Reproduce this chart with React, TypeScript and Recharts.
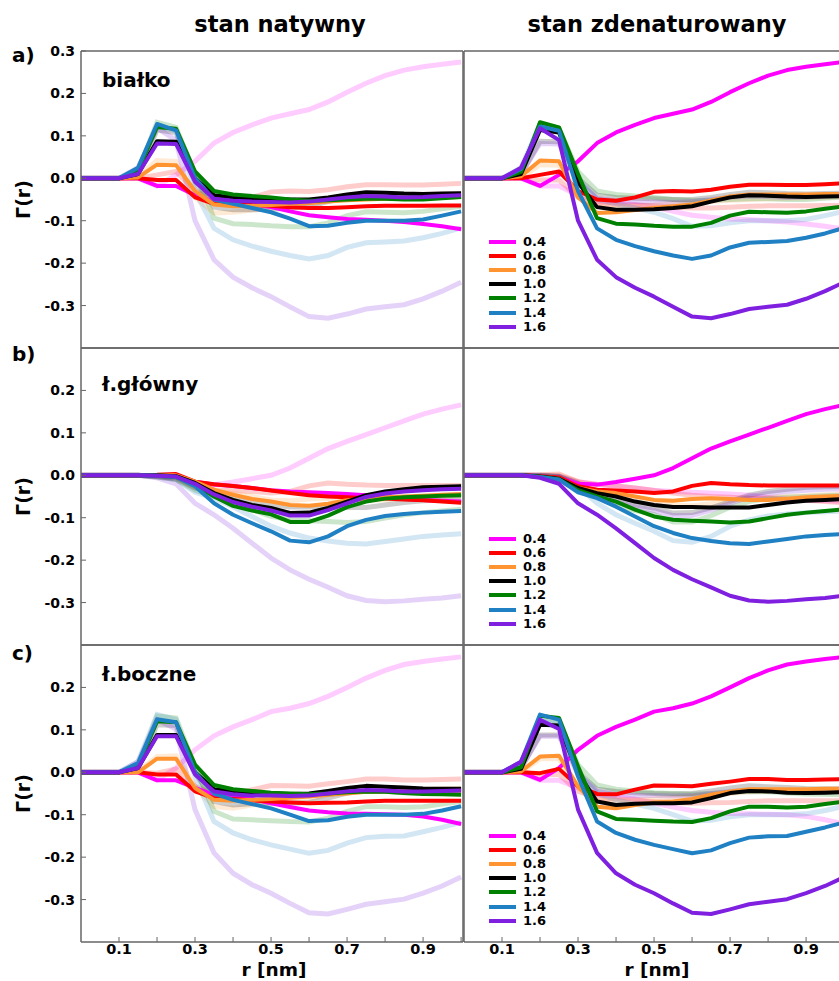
import React from 'react';
import { LineChart, Line, XAxis, YAxis, Legend } from 'recharts';

// r grid [nm], one point every 0.05
const rValues = [0, 0.05, 0.1, 0.15, 0.2, 0.25, 0.3, 0.35, 0.4, 0.45, 0.5, 0.55, 0.6, 0.65, 0.7, 0.75, 0.8, 0.85, 0.9, 0.95, 1.0];
const xTicks = [0.1, 0.2, 0.3, 0.4, 0.5, 0.6, 0.7, 0.8, 0.9, 1.0];
const xTickLabels = ['0.1', '0.3', '0.5', '0.7', '0.9'];
const yTicksTopRow = [-0.3, -0.2, -0.1, 0, 0.1, 0.2, 0.3];
const yTicksLowerRows = [-0.3, -0.2, -0.1, 0, 0.1, 0.2];

const seriesNames = ['0.4', '0.6', '0.8', '1.0', '1.2', '1.4', '1.6'];
const seriesColors = ['#ff00ff', '#ff0000', '#ff9430', '#000000', '#008000', '#1f80c4', '#7f1fe0'];

const columnTitles = ['stan natywny', 'stan zdenaturowany'];
const rowLetters = ['a)', 'b)', 'c)'];
const rowNames = ['białko', 'ł.główny', 'ł.boczne'];

// a) białko
const aNative = [
  [0, 0, 0, 0, -0.018, -0.018, -0.04, -0.055, -0.058, -0.062, -0.068, -0.078, -0.087, -0.092, -0.096, -0.098, -0.1, -0.103, -0.108, -0.113, -0.12],
  [0, 0, 0, 0, -0.004, -0.004, -0.045, -0.06, -0.062, -0.063, -0.065, -0.068, -0.07, -0.07, -0.068, -0.066, -0.065, -0.065, -0.065, -0.064, -0.064],
  [0, 0, 0, 0.002, 0.032, 0.031, -0.03, -0.062, -0.066, -0.065, -0.063, -0.06, -0.058, -0.055, -0.052, -0.05, -0.048, -0.047, -0.046, -0.045, -0.044],
  [0, 0, 0, 0.01, 0.087, 0.086, 0, -0.04, -0.045, -0.047, -0.048, -0.05, -0.05, -0.045, -0.038, -0.033, -0.034, -0.036, -0.037, -0.036, -0.035],
  [0, 0, 0, 0.018, 0.121, 0.117, 0.016, -0.03, -0.038, -0.042, -0.045, -0.05, -0.053, -0.052, -0.05, -0.048, -0.048, -0.05, -0.05, -0.047, -0.044],
  [0, 0, 0, 0.025, 0.128, 0.113, 0, -0.05, -0.06, -0.07, -0.08, -0.095, -0.113, -0.112, -0.105, -0.1, -0.1, -0.1, -0.097, -0.088, -0.078],
  [0, 0, 0, 0.01, 0.082, 0.081, -0.008, -0.048, -0.053, -0.055, -0.056, -0.057, -0.055, -0.05, -0.045, -0.042, -0.043, -0.045, -0.044, -0.042, -0.04],
];
const aDenat = [
  [0, 0, 0, 0, -0.018, 0.008, 0.04, 0.083, 0.108, 0.126, 0.142, 0.152, 0.162, 0.18, 0.203, 0.224, 0.242, 0.255, 0.263, 0.269, 0.274],
  [0, 0, 0, 0, 0.008, 0.016, -0.03, -0.05, -0.053, -0.045, -0.032, -0.03, -0.031, -0.027, -0.02, -0.015, -0.015, -0.016, -0.016, -0.014, -0.012],
  [0, 0, 0, 0.005, 0.042, 0.04, -0.045, -0.082, -0.08, -0.075, -0.07, -0.066, -0.062, -0.052, -0.043, -0.038, -0.038, -0.038, -0.038, -0.037, -0.037],
  [0, 0, 0, 0.01, 0.114, 0.108, -0.01, -0.068, -0.074, -0.074, -0.073, -0.07, -0.066, -0.055, -0.045, -0.04, -0.041, -0.043, -0.044, -0.043, -0.042],
  [0, 0, 0, 0.015, 0.132, 0.12, 0.01, -0.094, -0.107, -0.109, -0.112, -0.114, -0.114, -0.105, -0.088, -0.079, -0.08, -0.081, -0.078, -0.072, -0.066],
  [0, 0, 0, 0.022, 0.122, 0.112, -0.03, -0.118, -0.145, -0.16, -0.172, -0.182, -0.19, -0.182, -0.163, -0.152, -0.15, -0.148, -0.14, -0.13, -0.117],
  [0, 0, 0, 0.025, 0.118, 0.09, -0.1, -0.192, -0.233, -0.258, -0.279, -0.303, -0.326, -0.33, -0.32, -0.308, -0.303, -0.298, -0.284, -0.266, -0.245],
];

// b) ł.główny
const bNative = [
  [0, 0, 0, 0, 0, -0.002, -0.015, -0.022, -0.025, -0.03, -0.035, -0.038, -0.04, -0.042, -0.044, -0.047, -0.052, -0.056, -0.058, -0.06, -0.062],
  [0, 0, 0, 0, 0.001, 0.003, -0.015, -0.021, -0.025, -0.03, -0.036, -0.042, -0.047, -0.05, -0.052, -0.054, -0.055, -0.057, -0.059, -0.062, -0.065],
  [0, 0, 0, 0, 0, 0, -0.015, -0.034, -0.046, -0.056, -0.062, -0.07, -0.072, -0.067, -0.059, -0.056, -0.052, -0.05, -0.048, -0.046, -0.044],
  [0, 0, 0, 0, 0, -0.002, -0.018, -0.042, -0.058, -0.07, -0.077, -0.089, -0.088, -0.077, -0.062, -0.047, -0.038, -0.033, -0.028, -0.027, -0.026],
  [0, 0, 0, 0, -0.001, -0.004, -0.022, -0.05, -0.072, -0.083, -0.092, -0.11, -0.11, -0.095, -0.075, -0.062, -0.055, -0.052, -0.05, -0.048, -0.047],
  [0, 0, 0, 0, -0.001, -0.004, -0.026, -0.066, -0.093, -0.113, -0.132, -0.154, -0.158, -0.144, -0.12, -0.105, -0.096, -0.091, -0.088, -0.086, -0.084],
  [0, 0, 0, 0, -0.001, -0.003, -0.02, -0.045, -0.063, -0.074, -0.083, -0.095, -0.095, -0.082, -0.066, -0.051, -0.043, -0.038, -0.035, -0.033, -0.032],
];
const bDenat = [
  [0, 0, 0, 0, -0.002, -0.006, -0.02, -0.022, -0.016, -0.008, 0, 0.017, 0.04, 0.063, 0.08, 0.096, 0.112, 0.128, 0.144, 0.156, 0.166],
  [0, 0, 0, 0, -0.002, -0.005, -0.026, -0.034, -0.036, -0.038, -0.042, -0.038, -0.025, -0.018, -0.021, -0.023, -0.024, -0.024, -0.024, -0.024, -0.024],
  [0, 0, 0, 0, -0.003, -0.008, -0.03, -0.038, -0.042, -0.05, -0.058, -0.06, -0.056, -0.054, -0.056, -0.058, -0.058, -0.055, -0.052, -0.05, -0.048],
  [0, 0, 0, 0, -0.003, -0.008, -0.03, -0.042, -0.05, -0.062, -0.07, -0.075, -0.075, -0.076, -0.076, -0.076, -0.07, -0.064, -0.06, -0.058, -0.056],
  [0, 0, 0, 0, -0.004, -0.01, -0.035, -0.05, -0.062, -0.081, -0.097, -0.105, -0.107, -0.109, -0.111, -0.109, -0.101, -0.093, -0.088, -0.084, -0.08],
  [0, 0, 0, 0, -0.004, -0.01, -0.04, -0.054, -0.074, -0.097, -0.12, -0.136, -0.148, -0.155, -0.16, -0.162, -0.156, -0.15, -0.144, -0.141, -0.138],
  [0, 0, 0, 0, -0.006, -0.02, -0.066, -0.093, -0.125, -0.16, -0.195, -0.223, -0.245, -0.264, -0.284, -0.295, -0.298, -0.296, -0.292, -0.289, -0.284],
];

// c) ł.boczne
const cNative = [
  [0, 0, 0, 0, -0.019, -0.019, -0.037, -0.053, -0.057, -0.063, -0.073, -0.082, -0.09, -0.094, -0.097, -0.098, -0.099, -0.1, -0.104, -0.112, -0.122],
  [0, 0, 0, 0, -0.005, -0.005, -0.045, -0.061, -0.063, -0.066, -0.069, -0.071, -0.073, -0.072, -0.071, -0.069, -0.067, -0.067, -0.067, -0.067, -0.067],
  [0, 0, 0, 0, 0.032, 0.032, -0.037, -0.065, -0.067, -0.065, -0.063, -0.06, -0.057, -0.053, -0.05, -0.046, -0.045, -0.045, -0.045, -0.044, -0.043],
  [0, 0, 0, 0.01, 0.088, 0.088, 0, -0.04, -0.045, -0.048, -0.05, -0.051, -0.05, -0.044, -0.037, -0.032, -0.034, -0.036, -0.038, -0.039, -0.039],
  [0, 0, 0, 0.015, 0.12, 0.118, 0.018, -0.03, -0.04, -0.044, -0.048, -0.05, -0.052, -0.05, -0.047, -0.045, -0.046, -0.049, -0.051, -0.052, -0.053],
  [0, 0, 0, 0.022, 0.125, 0.118, 0, -0.05, -0.065, -0.075, -0.085, -0.1, -0.115, -0.113, -0.105, -0.1, -0.1, -0.1, -0.098, -0.09, -0.08],
  [0, 0, 0, 0.01, 0.085, 0.085, -0.005, -0.045, -0.052, -0.055, -0.055, -0.056, -0.055, -0.05, -0.045, -0.042, -0.043, -0.045, -0.045, -0.044, -0.043],
];
const cDenat = [
  [0, 0, 0, 0, -0.018, 0.01, 0.053, 0.086, 0.107, 0.124, 0.143, 0.151, 0.162, 0.179, 0.2, 0.222, 0.24, 0.254, 0.261, 0.267, 0.272],
  [0, 0, 0, 0, -0.002, 0.008, -0.033, -0.051, -0.052, -0.041, -0.031, -0.032, -0.033, -0.027, -0.022, -0.016, -0.016, -0.018, -0.018, -0.017, -0.016],
  [0, 0, 0, 0.002, 0.037, 0.039, -0.033, -0.081, -0.085, -0.077, -0.071, -0.069, -0.063, -0.053, -0.045, -0.04, -0.04, -0.04, -0.04, -0.039, -0.039],
  [0, 0, 0, 0.008, 0.112, 0.11, -0.002, -0.069, -0.077, -0.074, -0.073, -0.073, -0.071, -0.061, -0.049, -0.044, -0.045, -0.048, -0.049, -0.048, -0.047],
  [0, 0, 0, 0.012, 0.133, 0.128, 0.014, -0.092, -0.11, -0.112, -0.114, -0.116, -0.117, -0.108, -0.092, -0.081, -0.081, -0.083, -0.081, -0.075, -0.069],
  [0, 0, 0, 0.025, 0.136, 0.124, -0.01, -0.116, -0.143, -0.159, -0.171, -0.181, -0.191, -0.184, -0.167, -0.154, -0.151, -0.15, -0.14, -0.13, -0.118],
  [0, 0, 0, 0.025, 0.124, 0.102, -0.088, -0.19, -0.238, -0.265, -0.285, -0.309, -0.331, -0.334, -0.323, -0.311, -0.305, -0.299, -0.285, -0.268, -0.247],
];

const FONT = '"DejaVu Sans", Verdana, sans-serif';
const AXIS = '#666';
const PLOT_H = 297;
const PLOT_W = 382;
const TOP_PAD = 10;
const rowTops = [51, 348, 645];
const rowBlocks = [
  { native: aNative, denat: aDenat, yTicks: yTicksTopRow },
  { native: bNative, denat: bDenat, yTicks: yTicksLowerRows },
  { native: cNative, denat: cDenat, yTicks: yTicksLowerRows },
];

const LegendBox = () => (
  <div style={{ fontFamily: FONT, fontWeight: 'bold', fontSize: 13 }}>
    {seriesNames.map((name, k) => (
      <div key={name} style={{ display: 'flex', alignItems: 'center', height: 14.1 }}>
        <span style={{ display: 'inline-block', width: 27, height: 4, background: seriesColors[k], marginRight: 7 }} />
        <span style={{ lineHeight: '14px' }}>{name}</span>
      </div>
    ))}
  </div>
);

type PanelProps = {
  solid: number[][];
  faded: number[][];
  isLeft: boolean;
  isBottom: boolean;
  yTicks: number[];
  top: number;
};

const Panel: React.FC<PanelProps> = ({ solid, faded, isLeft, isBottom, yTicks, top }) => {
  const data = rValues.map((r, i) => {
    const row: Record<string, number> = { r };
    solid.forEach((s, k) => (row['s' + k] = s[i]));
    faded.forEach((s, k) => (row['f' + k] = s[i]));
    return row;
  });
  const leftW = isLeft ? 81 : 2;
  const bottomH = isBottom ? 39 : 1;
  const width = leftW + PLOT_W + 1;
  const height = TOP_PAD + PLOT_H + bottomH;
  const tickStyle = { fill: '#000', fontSize: 14, fontWeight: 'bold', fontFamily: FONT };

  return (
    <div style={{ position: 'absolute', left: isLeft ? 0 : 462, top: top - TOP_PAD }}>
      <LineChart width={width} height={height} data={data} margin={{ top: TOP_PAD - 1, right: 0, bottom: 0, left: 0 }}>
        <XAxis
          xAxisId="bottom"
          dataKey="r"
          type="number"
          domain={[0, 1.005]}
          allowDataOverflow
          ticks={xTicks}
          interval={0}
          orientation="bottom"
          height={bottomH}
          tickSize={-5}
          tickMargin={7}
          axisLine={{ stroke: AXIS, strokeWidth: 1.5 }}
          tickLine={{ stroke: AXIS, strokeWidth: 1 }}
          tick={isBottom ? { ...tickStyle, fontSize: 14.5 } : false}
          tickFormatter={(v: number) => xTickLabels.find((l) => Math.abs(parseFloat(l) - v) < 1e-6) ?? ''}
          label={
            isBottom
              ? {
                  content: (p: any) => {
                    const vb = p.viewBox;
                    return (
                      <text x={vb.x + vb.width / 2 + 2} y={vb.y + 34} textAnchor="middle" fontFamily={FONT} fontWeight="bold" fontSize={18.5} fill="#000">
                        r [nm]
                      </text>
                    );
                  },
                }
              : undefined
          }
        />
        <XAxis
          xAxisId="top"
          dataKey="r"
          type="number"
          domain={[0, 1.005]}
          allowDataOverflow
          ticks={xTicks}
          interval={0}
          orientation="top"
          height={1}
          tickSize={-5}
          axisLine={{ stroke: AXIS, strokeWidth: 1.5 }}
          tickLine={{ stroke: AXIS, strokeWidth: 1 }}
          tick={false}
        />
        <YAxis
          yAxisId="left"
          type="number"
          domain={[-0.4, 0.3]}
          allowDataOverflow
          ticks={yTicks}
          interval={0}
          orientation="left"
          width={leftW}
          tickSize={-5}
          tickMargin={11}
          axisLine={{ stroke: AXIS, strokeWidth: 1.5 }}
          tickLine={{ stroke: AXIS, strokeWidth: 1 }}
          tick={isLeft ? tickStyle : false}
          tickFormatter={(v: number) => (Math.abs(v) < 1e-9 ? '0.0' : v.toFixed(1))}
          label={
            isLeft
              ? {
                  content: (p: any) => {
                    const vb = p.viewBox;
                    const cx = 23;
                    const cy = vb.y + vb.height / 2;
                    return (
                      <text
                        x={cx}
                        y={cy}
                        transform={`rotate(-90, ${cx}, ${cy})`}
                        textAnchor="middle"
                        dominantBaseline="central"
                        fontFamily={FONT}
                        fontWeight="bold"
                        fontSize={19}
                        fill="#000"
                      >
                        Γ(r)
                      </text>
                    );
                  },
                }
              : undefined
          }
        />
        <YAxis
          yAxisId="right"
          type="number"
          domain={[-0.4, 0.3]}
          allowDataOverflow
          ticks={yTicks}
          interval={0}
          orientation="right"
          width={1}
          tickSize={-5}
          axisLine={{ stroke: AXIS, strokeWidth: 1.5 }}
          tickLine={{ stroke: AXIS, strokeWidth: 1 }}
          tick={false}
        />

        {/* the other state, faded in the background */}
        {seriesNames.map((name, k) => (
          <Line
            key={'f' + k}
            xAxisId="bottom"
            yAxisId="left"
            dataKey={'f' + k}
            type="linear"
            stroke={seriesColors[k]}
            strokeOpacity={0.2}
            strokeWidth={5}
            dot={false}
            activeDot={false}
            legendType="none"
            isAnimationActive={false}
          />
        ))}
        {seriesNames.map((name, k) => (
          <Line
            key={'s' + k}
            xAxisId="bottom"
            yAxisId="left"
            dataKey={'s' + k}
            name={name}
            type="linear"
            stroke={seriesColors[k]}
            strokeWidth={4}
            strokeLinejoin="round"
            dot={false}
            activeDot={false}
            isAnimationActive={false}
          />
        ))}
        {!isLeft && (
          <Legend
            layout="horizontal"
            verticalAlign="middle"
            align="center"
            wrapperStyle={{ left: 27, top: TOP_PAD + 184, width: 'auto', height: 'auto' }}
            content={() => <LegendBox />}
          />
        )}
      </LineChart>
    </div>
  );
};

const App: React.FC = () => {
  return (
    <div style={{ position: 'absolute', left: 0, top: 0, width: 839, height: 981, overflow: 'hidden', background: '#fff' }}>
      {rowBlocks.map((rb, i) => (
        <React.Fragment key={i}>
          <Panel solid={rb.native} faded={rb.denat} isLeft isBottom={i === 2} yTicks={rb.yTicks} top={rowTops[i]} />
          <Panel solid={rb.denat} faded={rb.native} isLeft={false} isBottom={i === 2} yTicks={rb.yTicks} top={rowTops[i]} />
        </React.Fragment>
      ))}
      <svg width={839} height={981} style={{ position: 'absolute', left: 0, top: 0, pointerEvents: 'none' }}>
        <g fontFamily={FONT} fontWeight="bold" fill="#000">
          <text x={280} y={32} fontSize={22.5} textAnchor="middle">{columnTitles[0]}</text>
          <text x={657} y={32} fontSize={22.5} textAnchor="middle">{columnTitles[1]}</text>
          {rowLetters.map((l, i) => (
            <text key={l} x={12} y={[62, 361, 660][i]} fontSize={20}>{l}</text>
          ))}
          {rowNames.map((n, i) => (
            <text key={n} x={102} y={[87, 391, 681][i]} fontSize={20}>{n}</text>
          ))}
        </g>
      </svg>
    </div>
  );
};

export default App;
